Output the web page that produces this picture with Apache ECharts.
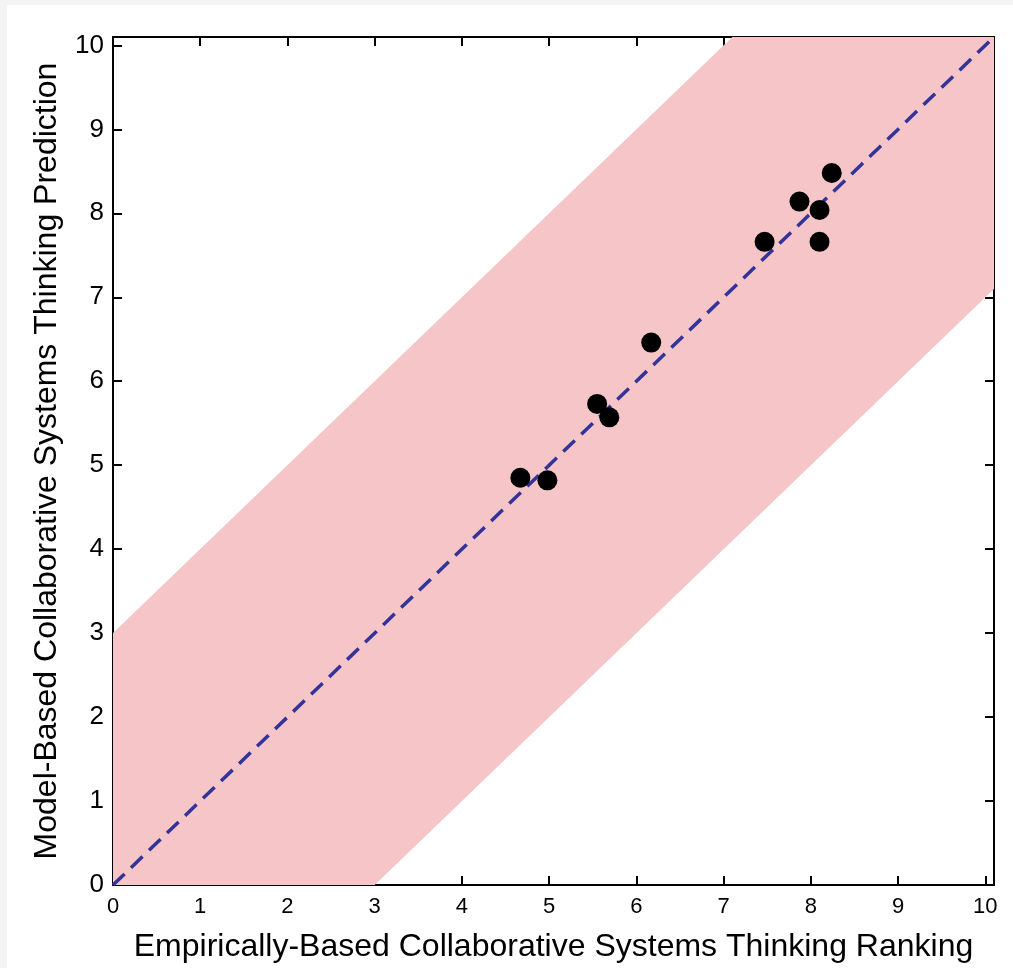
<!DOCTYPE html>
<html>
<head>
<meta charset="utf-8">
<script src="https://cdn.jsdelivr.net/npm/echarts@6/dist/echarts.min.js"></script>
<style>
  html, body { margin: 0; padding: 0; background: #f4f4f4; }
  #chart { position: absolute; left: 7px; top: 5px; width: 1006px; height: 963px; background: #fff; }
</style>
</head>
<body>
<div id="chart"></div>
<script>
  // tick labels on both axes
  var xTicks = [0, 1, 2, 3, 4, 5, 6, 7, 8, 9, 10];
  var yTicks = [0, 1, 2, 3, 4, 5, 6, 7, 8, 9, 10];
  // empirically-based ranking vs model-based prediction
  var empirical = [4.67, 4.98, 5.55, 5.69, 6.17, 7.47, 7.87, 8.10, 8.10, 8.24];
  var predicted = [4.85, 4.82, 5.73, 5.57, 6.46, 7.66, 8.14, 8.04, 7.66, 8.48];
  // +/- 3 band around the identity line
  var bandX = [0, 0, 7.1, 10.1, 10.1, 3];
  var bandY = [0, 3, 10.1, 10.1, 7.1, 0];
  // identity line
  var lineX = [0, 10.1];
  var lineY = [0, 10.1];

  var chart = echarts.init(document.getElementById('chart'));

  var points = empirical.map(function (v, i) { return [v, predicted[i]]; });
  var band = bandX.map(function (v, i) { return [v, bandY[i]]; });
  var diag = lineX.map(function (v, i) { return [v, lineY[i]]; });

  var font = 'Liberation Sans, Arial, sans-serif';

  var axisCommon = {
    type: 'value',
    min: 0,
    max: 10.1,
    interval: 1,
    splitLine: { show: false },
    axisLine: { show: true, onZero: false, lineStyle: { color: '#000', width: 2 } },
    axisTick: { show: true, inside: true, length: 9, lineStyle: { color: '#000', width: 2 } }
  };

  var option = {
    animation: false,
    grid: { left: 106, right: 19, top: 32, bottom: 81 },
    xAxis: [
      Object.assign({}, axisCommon, {
        position: 'bottom',
        name: 'Empirically-Based Collaborative Systems Thinking Ranking',
        nameLocation: 'middle',
        nameGap: 46,
        nameTextStyle: { fontSize: 32, color: '#000', fontFamily: font },
        axisLabel: {
          formatter: function (v) { return xTicks.indexOf(v) >= 0 ? String(v) : ''; },
          fontSize: 22, color: '#000', margin: 11, fontFamily: font
        }
      }),
      Object.assign({}, axisCommon, {
        position: 'top',
        axisLabel: { show: false }
      })
    ],
    yAxis: [
      Object.assign({}, axisCommon, {
        position: 'left',
        name: 'Model-Based Collaborative Systems Thinking Prediction',
        nameLocation: 'middle',
        nameGap: 50,
        nameTextStyle: { fontSize: 32, color: '#000', fontFamily: font },
        axisLabel: {
          formatter: function (v) { return yTicks.indexOf(v) >= 0 ? String(v) : ''; },
          fontSize: 26, color: '#000', margin: 9, fontFamily: font
        }
      }),
      Object.assign({}, axisCommon, {
        position: 'right',
        axisLabel: { show: false }
      })
    ],
    series: [
      {
        type: 'custom',
        data: [0],
        clip: true,
        z: 1,
        renderItem: function (params, api) {
          var pts = band.map(function (p) { return api.coord(p); });
          return {
            type: 'polygon',
            shape: { points: pts },
            style: { fill: '#f5c5c7' }
          };
        }
      },
      {
        type: 'line',
        data: diag,
        symbol: 'none',
        z: 2,
        lineStyle: { color: '#333399', width: 3.5, type: [16, 9] }
      },
      {
        type: 'scatter',
        data: points,
        symbol: 'circle',
        symbolSize: 20,
        z: 3,
        itemStyle: { color: '#000', opacity: 1 }
      }
    ]
  };

  chart.setOption(option);
</script>
</body>
</html>
